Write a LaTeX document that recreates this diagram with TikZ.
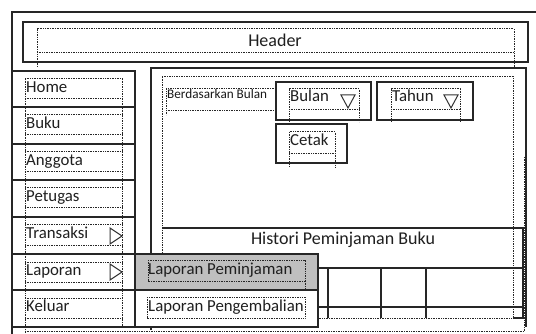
\documentclass[tikz,border=0pt]{standalone}
\usepackage{fontspec}
\setmainfont{Carlito}
\begin{document}
\begin{tikzpicture}[x=1pt,y=-1pt,
  sline/.style={draw=black!85, line width=1.1pt},
  thick line/.style={draw=black!85, line width=1.5pt},
  dline/.style={draw=black!85, line width=1pt, dash pattern=on 0.9pt off 0.8pt},
  lbl/.style={inner sep=0pt, anchor=base west, text=black!88, font=\fontsize{16.8}{19}\selectfont},
  big/.style={inner sep=0pt, anchor=base, text=black!88, font=\fontsize{18}{21}\selectfont},
  small/.style={inner sep=0pt, anchor=base west, text=black!90, font=\fontsize{13.2}{14}\selectfont},
  tri/.style={draw=black!80, line width=1pt, line join=miter},
]
\useasboundingbox (0,0) rectangle (536,334);
\begin{scope}
\clip (0,0) rectangle (536,334);
\fill[white] (0,0) rectangle (536,334);
% outer frame
\draw[sline, line width=1.3pt] (12,340) -- (12,12) -- (540,12);
% header
\draw[sline] (23,22) rectangle (528,62);
\draw[dline] (37,67) -- (37,29) -- (514,29) -- (514,67);
\draw[dline] (37,53) -- (514,53);
\node[big] (header) at (275,47) {Header};
% main content
\draw[sline] (151,330) -- (151,68) -- (526,68) -- (526,327);
\draw[dline] (162,77) rectangle (513,318);
\draw[dline] (524,157) -- (524,331);
\draw[dline] (25,331) -- (524,331);
% Berdasarkan Bulan
\draw[dline] (276,89) -- (166,89) -- (166,115);
\draw[dline] (166,111) -- (276,111);
\node[small] (berd) at (167,99) {Berdasarkan Bulan};
% Bulan
\draw[sline] (276,82) rectangle (371,120);
\draw[dline] (289,122) -- (289,89) -- (359,89) -- (359,122);
\draw[dline] (289,110) -- (359,110);
\node[lbl] (bulan) at (290,102) {Bulan};
\draw[tri] (341,95) -- (355,95) -- (348,108) -- cycle;
% Tahun
\draw[sline] (377,82) rectangle (473,120);
\draw[dline] (391,122) -- (391,89) -- (460,89) -- (460,122);
\draw[dline] (391,110) -- (460,110);
\node[lbl] (tahun) at (392,102) {Tahun};
\draw[tri] (444,95) -- (458,95) -- (451,108) -- cycle;
% Cetak
\draw[sline] (276,124) rectangle (347,163);
\draw[dline] (289,167) -- (289,132) -- (335,132) -- (335,167);
\draw[dline] (289,154) -- (335,154);
\node[lbl] (cetak) at (290,146) {Cetak};
% Histori
\draw[sline] (163,228) -- (523,228) -- (523,318) -- (513,318);
\node[big] (histori) at (343,244) {Histori Peminjaman Buku};
\draw[sline] (318,268) -- (523,268);
\draw[sline] (318,307) -- (523,307);
\foreach \xx in {328,381,426} \draw[sline] (\xx,268) -- (\xx,318);
% sidebar
\draw[sline, line width=1.3pt] (12,71) rectangle (135,290);
\foreach \yy in {107,144,180,217} \draw[sline] (12,\yy) -- (135,\yy);
\draw[thick line] (12,254) rectangle (135,290);
\draw[sline] (12,290) rectangle (135,327);
\draw[dline] (25,79) -- (25,334);
\draw[dline] (122,79) -- (122,327);
\foreach \yy in {71,107,144,180,217,254,290} {
  \draw[dline] (25,\yy+8) -- (122,\yy+8);
  \draw[dline] (25,\yy+28) -- (122,\yy+28);
}
\node[lbl] (home) at (26,92.7) {Home};
\node[lbl] (buku) at (26,129) {Buku};
\node[lbl] (anggota) at (26,166) {Anggota};
\node[lbl] (petugas) at (26,202) {Petugas};
\node[lbl] (transaksi) at (26,238) {Transaksi};
\node[lbl] (laporan) at (26,275) {Laporan};
\node[lbl] (keluar) at (26,311.5) {Keluar};
\draw[tri] (110,228) -- (110,244) -- (122,236) -- cycle;
\draw[tri] (110,264) -- (110,280) -- (122,272) -- cycle;
% submenu
\draw[thick line, fill=black!25] (135,254) rectangle (318,290);
\draw[thick line, fill=white] (135,290) rectangle (318,327);
\draw[dline] (148,260) rectangle (305,281);
\draw[dline] (305,281) -- (305,290);
\draw[dline] (147,297) rectangle (305,318);
\node[lbl] (lpem) at (148,274) {Laporan Peminjaman};
\node[lbl] (lpeng) at (148,311) {Laporan Pengembalian};
\end{scope}
\end{tikzpicture}
\end{document}
